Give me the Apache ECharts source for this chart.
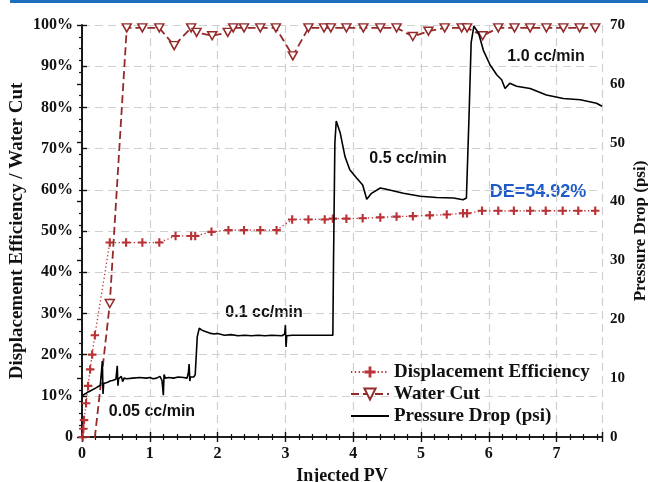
<!DOCTYPE html>
<html><head><meta charset="utf-8">
<script src="https://cdn.jsdelivr.net/npm/echarts@6/dist/echarts.min.js"></script>
<style>html,body{margin:0;padding:0;background:#fff}#c{width:648px;height:482px}</style>
</head><body><div id="c"></div>
<script>
// Displacement Efficiency (%) vs Injected PV
const deData = [[0.01,0],[0.02,2],[0.03,4.1],[0.06,8.2],[0.09,12.4],[0.12,16.4],[0.15,20],[0.19,24.7],[0.41,47.2],[0.65,47.2],[0.89,47.2],[1.14,47.2],[1.38,48.8],[1.61,48.8],[1.67,48.8],[1.91,49.8],[2.16,50.2],[2.39,50.2],[2.63,50.2],[2.87,50.2],[3.10,52.8],[3.34,52.8],[3.58,52.8],[3.70,53.0],[3.90,53.0],[4.14,53.1],[4.40,53.3],[4.64,53.5],[4.88,53.6],[5.13,53.8],[5.38,54.0],[5.62,54.3],[5.68,54.3],[5.90,54.9],[6.14,54.9],[6.37,54.9],[6.61,54.9],[6.84,54.92],[7.09,54.92],[7.32,54.92],[7.57,54.92]];
// Water Cut (%) vs Injected PV
const wcData = [[0,0],[0.19,0],[0.41,32.4],[0.66,99.3],[0.89,99.3],[1.14,99.3],[1.36,95.0],[1.61,99.3],[1.69,98.2],[1.92,97.4],[2.15,98.2],[2.23,99.3],[2.39,99.3],[2.63,99.3],[2.86,99.3],[3.11,92.5],[3.34,99.3],[3.57,99.3],[3.67,99.3],[3.90,99.3],[4.15,99.3],[4.40,99.3],[4.64,99.3],[4.88,97.2],[5.11,98.5],[5.35,99.3],[5.60,99.3],[5.68,99.3],[5.91,97.4],[6.14,99.3],[6.38,99.3],[6.61,99.3],[6.85,99.3],[7.10,99.3],[7.34,99.3],[7.57,99.3]];
// Pressure Drop (psi) vs Injected PV
const pdData = [[0,7.0],[0.1,7.7],[0.2,8.3],[0.27,8.8],[0.29,9.0],[0.30,12.9],[0.31,7.3],[0.32,9.1],[0.38,9.3],[0.41,9.5],[0.45,9.6],[0.50,9.8],[0.52,12.1],[0.53,8.7],[0.54,9.9],[0.58,10.3],[0.60,9.4],[0.62,10.0],[0.66,9.9],[0.75,10.0],[0.85,10.1],[0.95,10.0],[1.0,10.1],[1.05,9.9],[1.10,10.0],[1.15,10.3],[1.18,9.6],[1.20,7.1],[1.21,10.6],[1.23,10.0],[1.28,10.1],[1.35,10.0],[1.42,10.2],[1.50,10.1],[1.55,10.0],[1.57,11.0],[1.58,12.4],[1.59,9.5],[1.60,10.2],[1.65,10.2],[1.67,10.6],[1.70,17.0],[1.73,18.5],[1.76,18.2],[1.80,18.0],[1.85,17.8],[1.90,17.6],[1.95,17.5],[2.0,17.6],[2.1,17.3],[2.2,17.4],[2.3,17.2],[2.4,17.3],[2.5,17.2],[2.6,17.3],[2.7,17.2],[2.8,17.3],[2.95,17.2],[2.99,17.5],[3.0,19.0],[3.01,15.3],[3.02,17.2],[3.1,17.3],[3.3,17.3],[3.5,17.3],[3.70,17.3],[3.71,30],[3.73,50],[3.75,53.7],[3.81,51.6],[3.88,47.6],[3.95,45.4],[4.05,44.0],[4.14,42.8],[4.16,42.0],[4.20,40.4],[4.27,41.4],[4.40,42.3],[4.49,42.1],[4.74,41.4],[4.99,40.9],[5.23,40.7],[5.48,40.6],[5.62,40.3],[5.67,40.6],[5.69,40.6],[5.71,55],[5.74,67],[5.78,69.8],[5.85,68.6],[5.92,65.7],[6.02,63.2],[6.12,61.5],[6.19,60.7],[6.24,59.2],[6.31,60.1],[6.41,59.6],[6.61,59.2],[6.85,58.1],[7.10,57.5],[7.35,57.3],[7.59,56.7],[7.67,56.2]];
const seriesNames = ['Displacement Efficiency','Water Cut','Pressure Drop (psi)'];
const annotations = ['0.05 cc/min','0.1 cc/min','0.5 cc/min','1.0 cc/min','DE=54.92%'];

const serif = 'Liberation Serif';
const sans = 'Liberation Sans';
const plusPath = 'path://M3,0h2v3h3v2h-3v3h-2v-3h-3v-2h3z';
const deColor = '#b83236', wcColor = '#952a2a';

const chart = echarts.init(document.getElementById('c'), null, {renderer:'canvas'});
const axisLine = {show:true, lineStyle:{color:'#111', width:1.6}};
chart.setOption({
  animation:false,
  grid:{left:82, right:46, top:25, bottom:45, containLabel:false, outerBoundsMode:'none'},
  xAxis:[{
    type:'value', min:0, max:7.67, interval:1, position:'bottom',
    name:'Injected PV', nameLocation:'middle', nameGap:30, nameMoveOverlap:false,
    nameTextStyle:{fontFamily:serif, fontWeight:'bold', fontSize:18, color:'#111'},
    axisLine, axisTick:{show:true, inside:true, length:5, lineStyle:{color:'#111',width:1.4}},
    minorTick:{show:true, splitNumber:5, length:3, lineStyle:{color:'#111',width:1.2}},
    axisLabel:{fontFamily:serif, fontWeight:'bold', fontSize:16, color:'#111', margin:9, showMaxLabel:false},
    splitLine:{show:true, lineStyle:{color:'#d0d0d0', type:[8,5], width:1.2}}
  },{
    type:'value', min:0, max:7.67, interval:1, position:'top',
    axisLine, axisTick:{show:true, inside:true, length:5, lineStyle:{color:'#111',width:1.4}},
    minorTick:{show:true, splitNumber:5, length:3, lineStyle:{color:'#111',width:1.2}},
    axisLabel:{show:false}, splitLine:{show:false}
  }],
  yAxis:[{
    type:'value', min:0, max:100, interval:10, position:'left',
    name:'Displacement Efficiency / Water Cut', nameLocation:'middle', nameGap:55, nameMoveOverlap:false,
    nameTextStyle:{fontFamily:serif, fontWeight:'bold', fontSize:19, color:'#111'},
    axisLine, axisTick:{show:true, inside:true, length:5, lineStyle:{color:'#111',width:1.4}},
    axisLabel:{fontFamily:serif, fontWeight:'bold', fontSize:16, color:'#111', margin:9,
      formatter:v=> v===0 ? '0' : v+'%'},
    splitLine:{show:true, lineStyle:{color:'#d0d0d0', type:[8,5], width:1.2}}
  },{
    type:'value', min:0, max:70, interval:10, position:'right',
    name:'Pressure Drop (psi)', nameLocation:'middle', nameGap:30, nameMoveOverlap:false,
    nameTextStyle:{fontFamily:serif, fontWeight:'bold', fontSize:17, color:'#111'},
    axisLine, axisTick:{show:true, inside:true, length:5, lineStyle:{color:'#111',width:1.4}},
    minorTick:{show:true, splitNumber:5, length:3, lineStyle:{color:'#111',width:1.2}},
    axisLabel:{fontFamily:serif, fontWeight:'bold', fontSize:15, color:'#111', margin:8},
    splitLine:{show:false}
  }],
  legend:{
    orient:'vertical', left:350, top:361, padding:0, itemWidth:38, itemHeight:14, itemGap:0,
    textStyle:{fontFamily:serif, fontWeight:'bold', fontSize:19, lineHeight:22, color:'#111'},
    data:[seriesNames[0], seriesNames[1], {name:seriesNames[2], icon:'path://M0,0h38v2h-38z'}]
  },
  series:[{
    name:seriesNames[0], type:'line', data:deData, xAxisIndex:0, yAxisIndex:0,
    symbol:plusPath, symbolSize:8.5, symbolKeepAspect:true,
    itemStyle:{color:deColor},
    lineStyle:{color:deColor, width:1.3, type:[1.3,2.5]}, z:3
  },{
    name:seriesNames[1], type:'line', xAxisIndex:0, yAxisIndex:0,
    data:wcData.map(p=> p[1]===0 ? {value:p, symbol:'none'} : p),
    symbol:'triangle', symbolRotate:180, symbolSize:[9,8],
    itemStyle:{color:'#fff', borderColor:wcColor, borderWidth:1.5},
    lineStyle:{color:wcColor, width:1.8, type:[8,4]}, z:4
  },{
    name:seriesNames[2], type:'line', data:pdData, xAxisIndex:0, yAxisIndex:1,
    symbol:'none', itemStyle:{color:'#000'},
    lineStyle:{color:'#000', width:1.6}, z:5
  }],
  graphic:[
    {type:'rect', shape:{x:10,y:0,width:638,height:3}, style:{fill:'#1c6fbf'}},
    {type:'text', x:152, y:412, style:{text:annotations[0], font:'bold 16px '+sans, fill:'#111', align:'center', verticalAlign:'middle'}},
    {type:'text', x:264, y:313, style:{text:annotations[1], font:'bold 16px '+sans, fill:'#111', align:'center', verticalAlign:'middle'}},
    {type:'text', x:408, y:159, style:{text:annotations[2], font:'bold 16px '+sans, fill:'#111', align:'center', verticalAlign:'middle'}},
    {type:'text', x:546, y:57, style:{text:annotations[3], font:'bold 16px '+sans, fill:'#111', align:'center', verticalAlign:'middle'}},
    {type:'text', x:538, y:192, style:{text:annotations[4], font:'bold 18px '+sans, fill:'#1f5bc6', align:'center', verticalAlign:'middle'}}
  ]
});
</script></body></html>
